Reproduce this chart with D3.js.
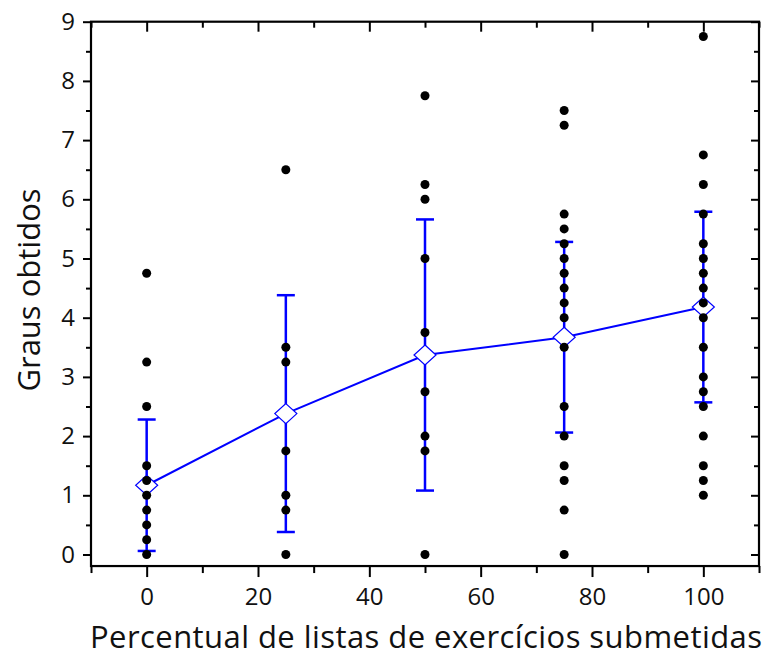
<!DOCTYPE html>
<html>
<head>
<meta charset="utf-8">
<script src="https://cdn.jsdelivr.net/npm/d3@7"></script>
<style>
  body { margin: 0; background: #fff; }
  text { font-family: "Open Sans", Lato, sans-serif; }
</style>
</head>
<body>
<script>
// groups on the x axis (% of submitted exercise lists)
var groups = [0, 25, 50, 75, 100];
// individual grades per group (distinct values as plotted)
var grades0 = [4.75, 3.25, 2.5, 1.5, 1.25, 1, 0.75, 0.5, 0.25, 0];
var grades25 = [6.5, 3.5, 3.25, 1.75, 1, 0.75, 0];
var grades50 = [7.75, 6.25, 6, 5, 3.75, 2.75, 2, 1.75, 0];
var grades75 = [7.5, 7.25, 5.75, 5.5, 5.25, 5, 4.75, 4.5, 4.25, 4, 3.5, 2.5, 2, 1.5, 1.25, 0.75, 0];
var grades100 = [8.75, 6.75, 6.25, 5.75, 5.25, 5, 4.75, 4.5, 4.25, 4, 3.5, 3, 2.75, 2.5, 2, 1.5, 1.25, 1];
// group means and standard deviations
var means = [1.17, 2.38, 3.37, 3.67, 4.18];
var sds = [1.11, 2.0, 2.29, 1.61, 1.61];
// tick labels
var xTicks = [0, 20, 40, 60, 80, 100];
var xMinor = [-10, 10, 30, 50, 70, 90, 110];
var yTicks = [0, 1, 2, 3, 4, 5, 6, 7, 8, 9];
var yMinor = [0.5, 1.5, 2.5, 3.5, 4.5, 5.5, 6.5, 7.5, 8.5];

var w = 766, h = 657;
var svg = d3.select("body").append("svg").attr("width", w).attr("height", h);

var x = d3.scaleLinear().domain([-10, 110]).range([91, 759]);
var y = d3.scaleLinear().domain([0, 9]).range([554.5, 21.7]);
var yBottom = y(-0.195);

var allGrades = [grades0, grades25, grades50, grades75, grades100];
var points = [];
allGrades.forEach(function (g, i) {
  g.forEach(function (v) { points.push([groups[i], v]); });
});
var meanData = groups.map(function (g, i) { return { x: g, m: means[i], sd: sds[i] }; });

// axes - bottom and left outward, top and right inward
var axB = svg.append("g").attr("transform", "translate(0," + yBottom + ")");
axB.call(d3.axisBottom(x).tickValues(xTicks).tickSize(11).tickSizeOuter(0).tickPadding(11));
axB.append("g").call(d3.axisBottom(x).tickValues(xMinor).tickSize(7).tickSizeOuter(0).tickFormat(""));
var axL = svg.append("g").attr("transform", "translate(" + x(-10) + ",0)");
axL.call(d3.axisLeft(y).tickValues(yTicks).tickSize(8).tickSizeOuter(0).tickPadding(8));
axL.append("g").call(d3.axisLeft(y).tickValues(yMinor).tickSize(5).tickSizeOuter(0).tickFormat(""));
var axT = svg.append("g").attr("transform", "translate(0," + y(9) + ")");
axT.call(d3.axisBottom(x).tickValues(xTicks).tickSize(10).tickSizeOuter(0).tickFormat(""));
axT.append("g").call(d3.axisBottom(x).tickValues(xMinor).tickSize(6).tickSizeOuter(0).tickFormat(""));
var axR = svg.append("g").attr("transform", "translate(" + x(110) + ",0)");
axR.call(d3.axisLeft(y).tickValues(yTicks).tickSize(8).tickSizeOuter(0).tickFormat(""));
axR.append("g").call(d3.axisLeft(y).tickValues(yMinor).tickSize(5).tickSizeOuter(0).tickFormat(""));

svg.selectAll(".domain").remove();
svg.selectAll(".tick line").attr("stroke", "#000").attr("stroke-width", 2);
svg.selectAll(".tick text").attr("font-size", 24).attr("fill", "#111")
  .style("font-family", "'Open Sans', Lato, sans-serif");

// frame
svg.append("rect").attr("x", x(-10)).attr("y", y(9))
  .attr("width", x(110) - x(-10)).attr("height", yBottom - y(9))
  .attr("fill", "none").attr("stroke", "#000").attr("stroke-width", 2.2);

// error bars
var eb = svg.selectAll(".eb").data(meanData).enter().append("g").attr("class", "eb")
  .attr("stroke", "#0000ff").attr("stroke-width", 2.5);
eb.append("line").attr("x1", function (d) { return x(d.x); }).attr("x2", function (d) { return x(d.x); })
  .attr("y1", function (d) { return y(d.m + d.sd); }).attr("y2", function (d) { return y(d.m - d.sd); });
eb.append("line").attr("x1", function (d) { return x(d.x) - 9; }).attr("x2", function (d) { return x(d.x) + 9; })
  .attr("y1", function (d) { return y(d.m + d.sd); }).attr("y2", function (d) { return y(d.m + d.sd); });
eb.append("line").attr("x1", function (d) { return x(d.x) - 9; }).attr("x2", function (d) { return x(d.x) + 9; })
  .attr("y1", function (d) { return y(d.m - d.sd); }).attr("y2", function (d) { return y(d.m - d.sd); });

// mean line
var line = d3.line().x(function (d) { return x(d.x); }).y(function (d) { return y(d.m); });
svg.append("path").datum(meanData).attr("d", line)
  .attr("fill", "none").attr("stroke", "#0000ff").attr("stroke-width", 2);

// mean diamonds
svg.selectAll(".mean").data(meanData).enter().append("path").attr("class", "mean")
  .attr("transform", function (d) { return "translate(" + x(d.x) + "," + y(d.m) + ")"; })
  .attr("d", "M0,-10L11,0L0,10L-11,0Z")
  .attr("fill", "#fff").attr("stroke", "#0000ff").attr("stroke-width", 1.2);

// individual grades
svg.selectAll(".pt").data(points).enter().append("circle").attr("class", "pt")
  .attr("cx", function (d) { return x(d[0]); })
  .attr("cy", function (d) { return y(d[1]); })
  .attr("r", 4.5).attr("fill", "#000");

// axis titles
svg.append("text").attr("x", 426).attr("y", 648).attr("text-anchor", "middle")
  .attr("font-size", 31).attr("fill", "#111")
  .attr("textLength", 672).attr("lengthAdjust", "spacing")
  .text("Percentual de listas de exercícios submetidas");
svg.append("text").attr("transform", "translate(40,290) rotate(-90)").attr("text-anchor", "middle")
  .attr("font-size", 31).attr("fill", "#111").text("Graus obtidos");
</script>
</body>
</html>
